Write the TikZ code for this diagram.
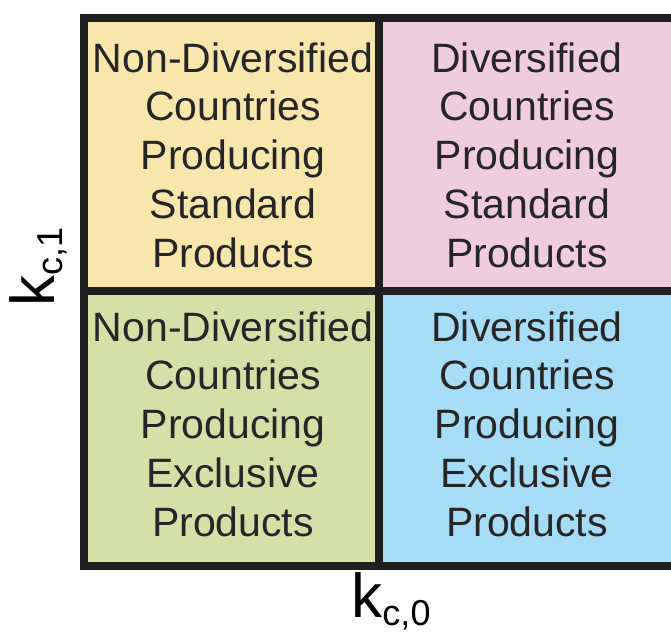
\documentclass[tikz,border=0pt]{standalone}
\usepackage{fontspec}
\setmainfont{Liberation Sans}

\definecolor{cellyellow}{RGB}{247,231,172}
\definecolor{cellpink}{RGB}{240,205,220}
\definecolor{cellgreen}{RGB}{213,223,168}
\definecolor{cellblue}{RGB}{166,220,245}

\tikzset{
  celltext/.style={align=center, inner sep=0pt, text=black!85,
    font=\fontsize{41}{48.7}\selectfont},
  axislabel/.style={inner sep=0pt, font=\fontsize{62}{62}\selectfont},
  grid/.style={line width=8pt, black!88}
}
\newcommand{\kidx}[1]{k\raisebox{-8pt}{\fontsize{36}{36}\selectfont #1}}

\begin{document}
\begin{tikzpicture}[x=1pt,y=1pt]
\useasboundingbox (0,0) rectangle (671,634);
% quadrants
\fill[cellyellow] (84,616) rectangle (379,343);
\fill[cellpink]   (379,616) rectangle (676,343);
\fill[cellgreen]  (84,343) rectangle (379,68);
\fill[cellblue]   (379,343) rectangle (676,68);

%%   kw   (name)   (x, y)   {text}
\node[celltext] (ndstd) at (233,479) {Non-Diversified\\Countries\\Producing\\Standard\\Products};
\node[celltext] (dstd)  at (527,479) {Diversified\\Countries\\Producing\\Standard\\Products};
\node[celltext] (ndexc) at (233,210) {Non-Diversified\\Countries\\Producing\\Exclusive\\Products};
\node[celltext] (dexc)  at (527,210) {Diversified\\Countries\\Producing\\Exclusive\\Products};

% frame
\draw[grid] (84,616) rectangle (676,68);
\draw[grid] (379,616) -- (379,68);
\draw[grid] (84,343) -- (676,343);

% axes
\node[axislabel] (kx) at (391,33) {\kidx{c,0}};
\node[axislabel, rotate=90] (ky) at (38,367) {\kidx{c,1}};
\end{tikzpicture}
\end{document}
